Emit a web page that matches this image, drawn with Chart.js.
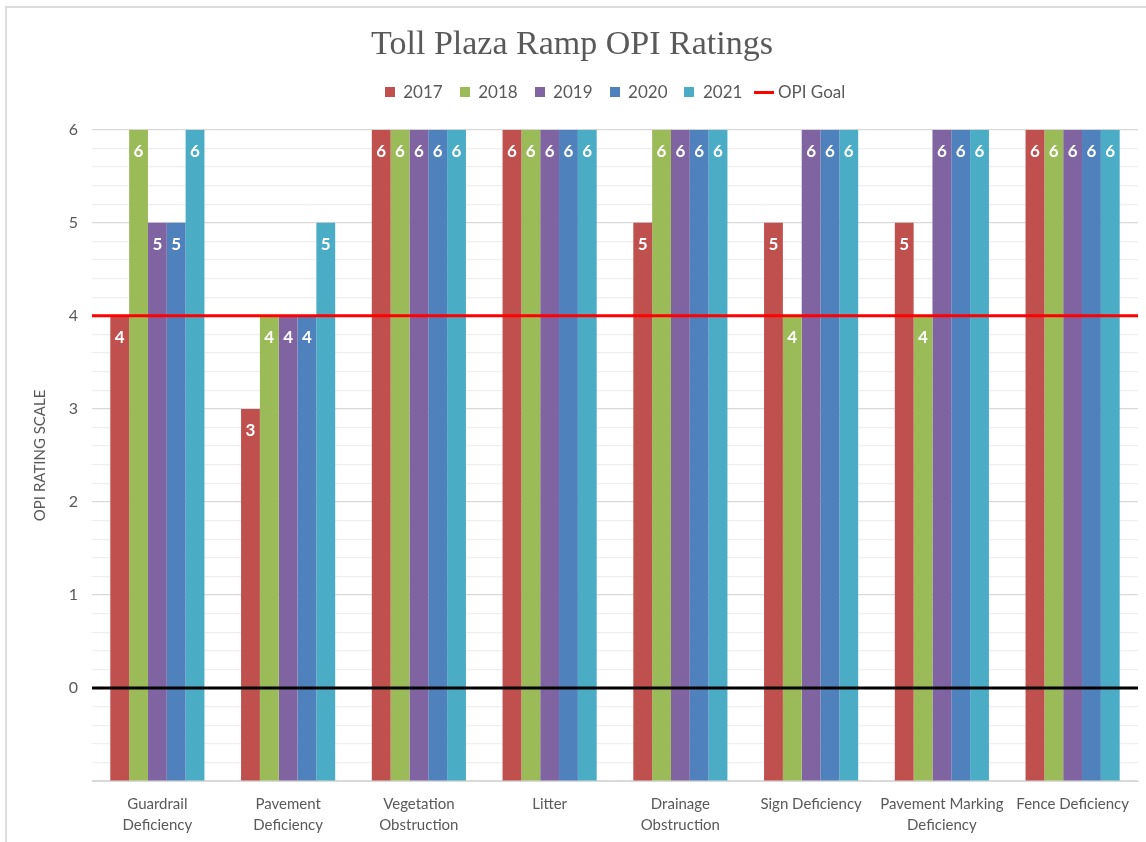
<!DOCTYPE html>
<html>
<head>
<meta charset="utf-8">
<script src="https://cdn.jsdelivr.net/npm/chart.js@4.4.1/dist/chart.umd.min.js"></script>
<style>
  html, body { margin: 0; padding: 0; background: #fff; }
  #frame { position: absolute; left: 5px; top: 6px; width: 1200px; height: 900px;
           border-top: 2px solid #dcdcdc; border-left: 2px solid #dcdcdc; }
  #wrap { position: absolute; left: 0; top: 0; width: 1146px; height: 842px; }
</style>
</head>
<body>
<div id="frame"></div>
<div id="wrap"><canvas id="opiChart" width="1146" height="842"></canvas></div>
<script>
const categories = [
    ['Guardrail', 'Deficiency'],
    ['Pavement', 'Deficiency'],
    ['Vegetation', 'Obstruction'],
    'Litter',
    ['Drainage', 'Obstruction'],
    'Sign Deficiency',
    ['Pavement Marking', 'Deficiency'],
    'Fence Deficiency'
];
const years = ['2017', '2018', '2019', '2020', '2021'];
const ratings2017 = [4, 3, 6, 6, 5, 5, 5, 6];
const ratings2018 = [6, 4, 6, 6, 6, 4, 4, 6];
const ratings2019 = [5, 4, 6, 6, 6, 6, 6, 6];
const ratings2020 = [5, 4, 6, 6, 6, 6, 6, 6];
const ratings2021 = [6, 5, 6, 6, 6, 6, 6, 6];
const opiGoal = 4;
const baseLine = 0;
const yTickLabels = ['0', '1', '2', '3', '4', '5', '6'];

const colors = ['#C0504D', '#9BBB59', '#8064A2', '#4F81BD', '#4BACC6'];
const series = [ratings2017, ratings2018, ratings2019, ratings2020, ratings2021];
const grey = '#595959';
const goalColor = '#FF0000';
const font = 'Lato, "Open Sans", sans-serif';

function swatch(color) {
    const c = document.createElement('canvas');
    c.width = 10; c.height = 10;
    const g = c.getContext('2d');
    g.fillStyle = color;
    g.fillRect(0, 0, 10, 10);
    return c;
}

function lineSwatch(color) {
    const c = document.createElement('canvas');
    c.width = 20; c.height = 3;
    const g = c.getContext('2d');
    g.fillStyle = color;
    g.fillRect(0, 0, 20, 3);
    return c;
}

const barSets = years.map((y, i) => ({
    label: y,
    data: series[i],
    backgroundColor: colors[i],
    base: -1
}));

// goal line and zero line, full width of the plot
const refLines = {
    id: 'refLines',
    afterDatasetsDraw(chart) {
        const {ctx, chartArea, scales} = chart;
        const draw = (value, color) => {
            const y = scales.y.getPixelForValue(value);
            ctx.beginPath();
            ctx.moveTo(chartArea.left, y);
            ctx.lineTo(chartArea.right, y);
            ctx.strokeStyle = color;
            ctx.lineWidth = 3;
            ctx.stroke();
        };
        ctx.save();
        draw(baseLine, '#000000');
        draw(opiGoal, goalColor);
        ctx.restore();
    }
};

// white value labels at the top of each bar
const barValues = {
    id: 'barValues',
    afterDatasetsDraw(chart) {
        const ctx = chart.ctx;
        ctx.save();
        ctx.fillStyle = '#ffffff';
        ctx.font = 'bold 17px ' + font;
        ctx.textAlign = 'center';
        ctx.textBaseline = 'middle';
        chart.data.datasets.forEach((ds, i) => {
            chart.getDatasetMeta(i).data.forEach((bar, j) => {
                ctx.fillText(String(ds.data[j]), bar.x, bar.y + 22);
            });
        });
        ctx.restore();
    }
};

// a bit of room under the legend
const legendGap = {
    id: 'legendGap',
    beforeInit(chart) {
        const fit = chart.legend.fit;
        chart.legend.fit = function () {
            fit.bind(chart.legend)();
            this.height += 19;
        };
    }
};

const ctx = document.getElementById('opiChart').getContext('2d');
const chart = new Chart(ctx, {
    type: 'bar',
    data: {
        labels: categories,
        datasets: barSets
    },
    plugins: [refLines, barValues, legendGap],
    options: {
        responsive: false,
        animation: false,
        categoryPercentage: 0.72,
        barPercentage: 1.0,
        layout: { padding: { left: 6, right: 8, top: 10, bottom: 0 } },
        plugins: {
            title: {
                display: true,
                text: 'Toll Plaza Ramp OPI Ratings',
                color: grey,
                font: { family: '"Liberation Serif", serif', size: 34, weight: 'normal' },
                padding: { top: 15, bottom: 1 }
            },
            legend: {
                position: 'top',
                fullSize: false,
                onClick() {},
                labels: {
                    usePointStyle: true,
                    boxWidth: 10,
                    boxHeight: 10,
                    padding: 17,
                    color: grey,
                    font: { family: font, size: 17 },
                    generateLabels(chart) {
                        const items = chart.data.datasets.map((ds, i) => ({
                            text: ds.label,
                            datasetIndex: i,
                            fillStyle: ds.backgroundColor,
                            strokeStyle: 'transparent',
                            lineWidth: 0,
                            fontColor: grey,
                            hidden: false,
                            pointStyle: swatch(ds.backgroundColor)
                        }));
                        items.push({
                            text: 'OPI Goal',
                            fillStyle: goalColor,
                            strokeStyle: 'transparent',
                            lineWidth: 0,
                            fontColor: grey,
                            hidden: false,
                            pointStyle: lineSwatch(goalColor)
                        });
                        return items;
                    }
                }
            },
            tooltip: { enabled: false }
        },
        scales: {
            x: {
                grid: { display: false },
                border: { color: '#d9d9d9', width: 1 },
                ticks: {
                    color: grey,
                    font: { family: font, size: 15, lineHeight: 1.4 },
                    padding: 5,
                    maxRotation: 0,
                    autoSkip: false
                },
                afterFit(scale) { scale.height = 61; }
            },
            y: {
                min: -1,
                max: 6,
                border: { display: false },
                grid: {
                    drawTicks: false,
                    color(c) {
                        const v = c.tick.value;
                        return Math.abs(v - Math.round(v)) < 1e-6 ? '#d9d9d9' : '#efefef';
                    },
                    lineWidth: 1.2
                },
                ticks: {
                    stepSize: 0.2,
                    autoSkip: false,
                    padding: 14,
                    color: grey,
                    font: { family: font, size: 16 },
                    callback(v) {
                        const r = Math.round(v);
                        if (Math.abs(v - r) > 1e-6 || r < 0) return '';
                        return yTickLabels[r];
                    }
                },
                title: {
                    display: true,
                    text: 'OPI RATING SCALE',
                    color: grey,
                    font: { family: font, size: 15 },
                    padding: { top: 25, bottom: 0 }
                },
                afterFit(scale) { scale.width = 86; }
            }
        }
    }
});
</script>
</body>
</html>
